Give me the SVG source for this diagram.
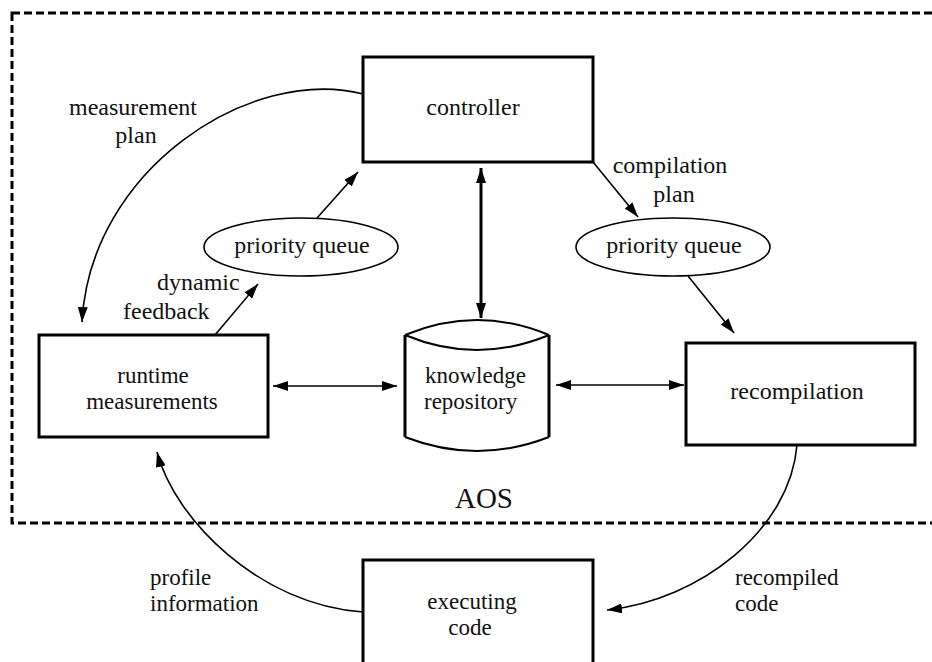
<svg xmlns="http://www.w3.org/2000/svg" width="932" height="662" viewBox="0 0 932 662">
  <defs>
    <marker id="arrow" viewBox="0 0 15 10" refX="15" refY="5" markerWidth="15" markerHeight="10" markerUnits="userSpaceOnUse" orient="auto-start-reverse">
      <path d="M0,0 L15,5 L0,10 z" fill="#000"/>
    </marker>
    <style>
      .box { fill: #fff; stroke: #000; stroke-width: 3; }
      .oval { fill: #fff; stroke: #000; stroke-width: 1.6; }
      .lbl { font-family: "Liberation Serif", "Times New Roman", serif; font-size: 24px; fill: #111; }
      .tight { font-size: 23px; }
      .mid { text-anchor: middle; }
      .edge { fill: none; stroke: #000; stroke-width: 1.6; }
      .thick { stroke-width: 3; }
    </style>
  </defs>
  <rect width="932" height="662" fill="#fff"/>

  <!-- AOS boundary (right side runs off the page) -->
  <g id="aos">
    <rect x="12" y="13" width="940" height="510" fill="none" stroke="#000" stroke-width="3" stroke-dasharray="8 4"/>
    <text class="lbl mid" x="484" y="508" style="font-size:29px">AOS</text>
  </g>

  <!-- connectors -->
  <g id="connectors">
    <path class="edge" d="M363,94 C250,65 90,170 82,322" marker-end="url(#arrow)"/>
    <path class="edge" d="M317,218 L358,172" marker-end="url(#arrow)"/>
    <path class="edge" d="M215,335 L258,284" marker-end="url(#arrow)"/>
    <path class="edge" d="M593,162 L638,217" marker-end="url(#arrow)"/>
    <path class="edge" d="M688,276 L734,333" marker-end="url(#arrow)"/>
    <path class="edge thick" d="M481,168 L481,318" marker-start="url(#arrow)" marker-end="url(#arrow)"/>
    <path class="edge" d="M273,386 L397,386" marker-start="url(#arrow)" marker-end="url(#arrow)"/>
    <path class="edge" d="M556,385 L684,385" marker-start="url(#arrow)" marker-end="url(#arrow)"/>
    <path class="edge" d="M363,612 C260,605 175,520 157,452" marker-end="url(#arrow)"/>
    <path class="edge" d="M797,445 C790,530 700,600 607,610" marker-end="url(#arrow)"/>
    <text class="lbl mid" x="133" y="115">measurement</text>
    <text class="lbl mid" x="136" y="143">plan</text>
    <text class="lbl" x="157" y="290">dynamic</text>
    <text class="lbl" x="123" y="319">feedback</text>
    <text class="lbl mid" x="670" y="173">compilation</text>
    <text class="lbl mid" x="674" y="202">plan</text>
    <text class="lbl tight" x="150" y="585">profile</text>
    <text class="lbl tight" x="150" y="611">information</text>
    <text class="lbl tight" x="735" y="585">recompiled</text>
    <text class="lbl tight" x="735" y="611">code</text>
  </g>

  <g id="controller">
    <rect class="box" x="363" y="57" width="230" height="105"/>
    <text class="lbl mid" x="473" y="115">controller</text>
  </g>

  <g id="queue-left">
    <ellipse class="oval" cx="301" cy="247" rx="97" ry="29"/>
    <text class="lbl mid" x="302" y="253">priority queue</text>
  </g>

  <g id="queue-right">
    <ellipse class="oval" cx="673" cy="247" rx="97" ry="29"/>
    <text class="lbl mid" x="674" y="253">priority queue</text>
  </g>

  <g id="runtime">
    <rect class="box" x="39" y="335" width="229" height="102"/>
    <text class="lbl tight mid" x="153" y="383">runtime</text>
    <text class="lbl tight mid" x="152" y="409">measurements</text>
  </g>

  <g id="repository">
    <path d="M405,335 L405,437 Q477,465 549,437 L549,335 Q477,305 405,335 Z" fill="#fff" stroke="none"/>
    <path d="M405,335 Q477,305 549,335" fill="none" stroke="#000" stroke-width="2"/>
    <path d="M405,335 Q477,365 549,335" fill="none" stroke="#000" stroke-width="2"/>
    <path d="M405,437 Q477,465 549,437" fill="none" stroke="#000" stroke-width="2"/>
    <path d="M405,335 L405,437 M549,335 L549,437" fill="none" stroke="#000" stroke-width="3"/>
    <text class="lbl tight" x="425" y="383">knowledge</text>
    <text class="lbl tight" x="424" y="409">repository</text>
  </g>

  <g id="recompilation">
    <rect class="box" x="686" y="343" width="229" height="102"/>
    <text class="lbl mid" x="797" y="399">recompilation</text>
  </g>

  <g id="executing">
    <rect class="box" x="363" y="560" width="230" height="110"/>
    <text class="lbl tight mid" x="472" y="609">executing</text>
    <text class="lbl tight mid" x="470" y="635">code</text>
  </g>
</svg>
